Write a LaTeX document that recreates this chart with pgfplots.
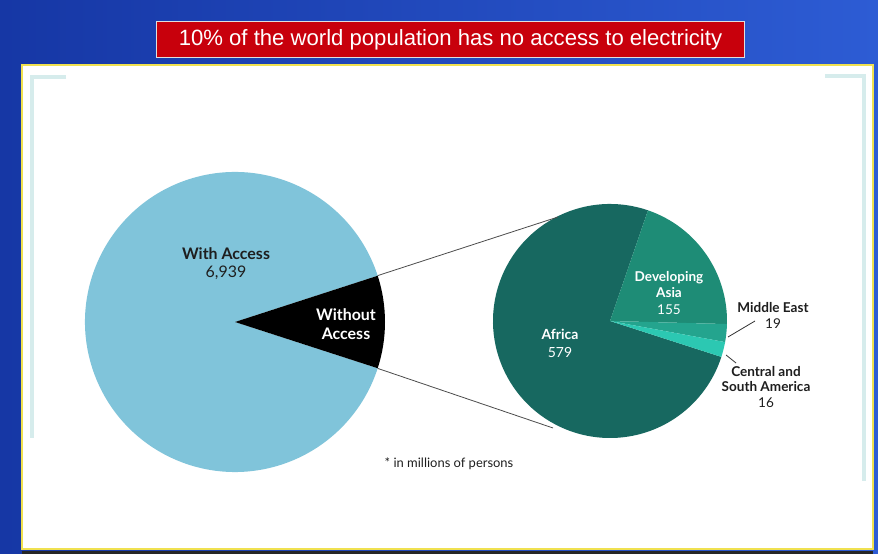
\documentclass[border=0pt]{standalone}
\usepackage{pgfplots}
\usepackage{pgfplotstable}
\pgfplotsset{compat=1.18}
\usepackage{fontspec}
\setmainfont{Lato}
\newfontfamily\titlefont{Liberation Sans}

\definecolor{bgL}{RGB}{22,55,165}
\definecolor{bgR}{RGB}{45,92,212}
\definecolor{titlered}{RGB}{200,0,12}
\definecolor{panelborder}{RGB}{240,225,80}
\definecolor{bracket}{RGB}{214,236,236}
\definecolor{withc}{RGB}{128,196,218}
\definecolor{africa}{RGB}{23,104,96}
\definecolor{asia}{RGB}{30,140,118}
\definecolor{mideast}{RGB}{36,164,142}
\definecolor{csa}{RGB}{44,200,178}
\definecolor{txt}{RGB}{30,30,30}

\pgfplotstableread{
group value
With 6939
Without 769
}\maintab
\pgfplotstableread{
region value
Africa 579
Asia 155
MiddleEast 19
CSA 16
}\subtab

\pgfplotstablegetelem{0}{value}\of\maintab\edef\vWith{\pgfplotsretval}
\pgfplotstablegetelem{1}{value}\of\maintab\edef\vWithout{\pgfplotsretval}
\pgfplotstablegetelem{0}{value}\of\subtab\edef\vAfrica{\pgfplotsretval}
\pgfplotstablegetelem{1}{value}\of\subtab\edef\vAsia{\pgfplotsretval}
\pgfplotstablegetelem{2}{value}\of\subtab\edef\vME{\pgfplotsretval}
\pgfplotstablegetelem{3}{value}\of\subtab\edef\vCSA{\pgfplotsretval}

\pgfmathsetmacro\wedge{360*(\vWithout/(\vWith+\vWithout))}
\pgfmathsetmacro\wHalf{\wedge/2}
\pgfmathsetmacro\wRest{360-\wedge/2}
\pgfmathsetmacro\subTot{\vAfrica+\vAsia+\vME+\vCSA}
\pgfmathsetmacro\aAsia{360*(\vAsia/\subTot)}
\pgfmathsetmacro\aME{360*(\vME/\subTot)}
\pgfmathsetmacro\aCSA{360*(\vCSA/\subTot)}
\pgfmathsetmacro\sAsia{-1.5}
\pgfmathsetmacro\eAsia{\sAsia+\aAsia}
\pgfmathsetmacro\sME{\sAsia-\aME}
\pgfmathsetmacro\sCSA{\sME-\aCSA}
\pgfmathsetmacro\eAfrica{360+\sCSA}

\newcommand{\slice}[6]{%
  \fill[#6] (axis cs:#1,#2) -- ++(#4:#3bp) arc[start angle=#4, end angle=#5, radius=#3bp] -- cycle;}

\begin{document}
\begin{tikzpicture}
\begin{axis}[x=1bp,y=1bp,xmin=0,xmax=878,ymin=0,ymax=554,
  hide axis, scale only axis, clip=false]
% background
\shade[left color=bgL, right color=bgR] (axis cs:0,0) rectangle (axis cs:878,554);
% panel
\fill[white] (axis cs:22,5) rectangle (axis cs:873,489);
\draw[panelborder, line width=2bp] (axis cs:22,5) rectangle (axis cs:873,489);
\fill[black!85] (axis cs:22,0) rectangle (axis cs:873,2.5);
% brackets
\draw[bracket, line width=4bp] (axis cs:66,477) -- (axis cs:32,477) -- (axis cs:32,116);
\draw[bracket, line width=4bp] (axis cs:825,478) -- (axis cs:864,478) -- (axis cs:864,73);
% title
\node[fill=titlered, draw=white!75!gray, line width=1bp, minimum width=587bp, minimum height=36bp,
  inner sep=0pt, text=white, font=\titlefont\fontsize{22.2}{26}\selectfont]
  at (axis cs:450.5,514) {10\% of the world population has no access to electricity};
% big pie
\slice{235}{232}{150}{\wHalf}{\wRest}{withc}
\slice{235}{232}{150}{-\wHalf}{\wHalf}{black}
% small pie
\slice{610}{233}{117}{\eAsia}{\eAfrica}{africa}
\slice{610}{233}{117}{\sAsia}{\eAsia}{asia}
\slice{610}{233}{117}{\sME}{\sAsia}{mideast}
\slice{610}{233}{117}{\sCSA}{\sME}{csa}
% connectors
\addplot[black!70, line width=0.8bp] coordinates {(377.7,278.4) (558,337)};
\addplot[black!70, line width=0.8bp] coordinates {(377.7,185.6) (553,126)};
\addplot[black!80, line width=0.8bp] coordinates {(728,217) (755,233)};
\addplot[black!80, line width=0.8bp] coordinates {(726,199) (736,191)};
% labels
\node[align=center, text=txt, font=\fontsize{16}{18}\selectfont] at (axis cs:226,290) {\textbf{With Access}\\6,939};
\node[align=center, text=white, font=\bfseries\fontsize{16}{19}\selectfont] at (axis cs:346,230) {Without\\Access};
\node[align=center, text=white, font=\fontsize{14}{18}\selectfont] at (axis cs:560,211) {\textbf{Africa}\\579};
\node[align=center, text=white, font=\fontsize{13.6}{16.5}\selectfont] at (axis cs:669,261) {\textbf{Developing}\\\textbf{Asia}\\155};
\node[align=center, text=txt, font=\fontsize{13.6}{17}\selectfont] at (axis cs:773,238.5) {\textbf{Middle East}\\19};
\node[align=center, text=txt, font=\fontsize{13.6}{16}\selectfont] at (axis cs:766,167) {\textbf{Central and}\\\textbf{South America}\\16};
\node[text=txt, font=\fontsize{13}{15}\selectfont] at (axis cs:449,90) {* in millions of persons};
\end{axis}
\end{tikzpicture}
\end{document}
